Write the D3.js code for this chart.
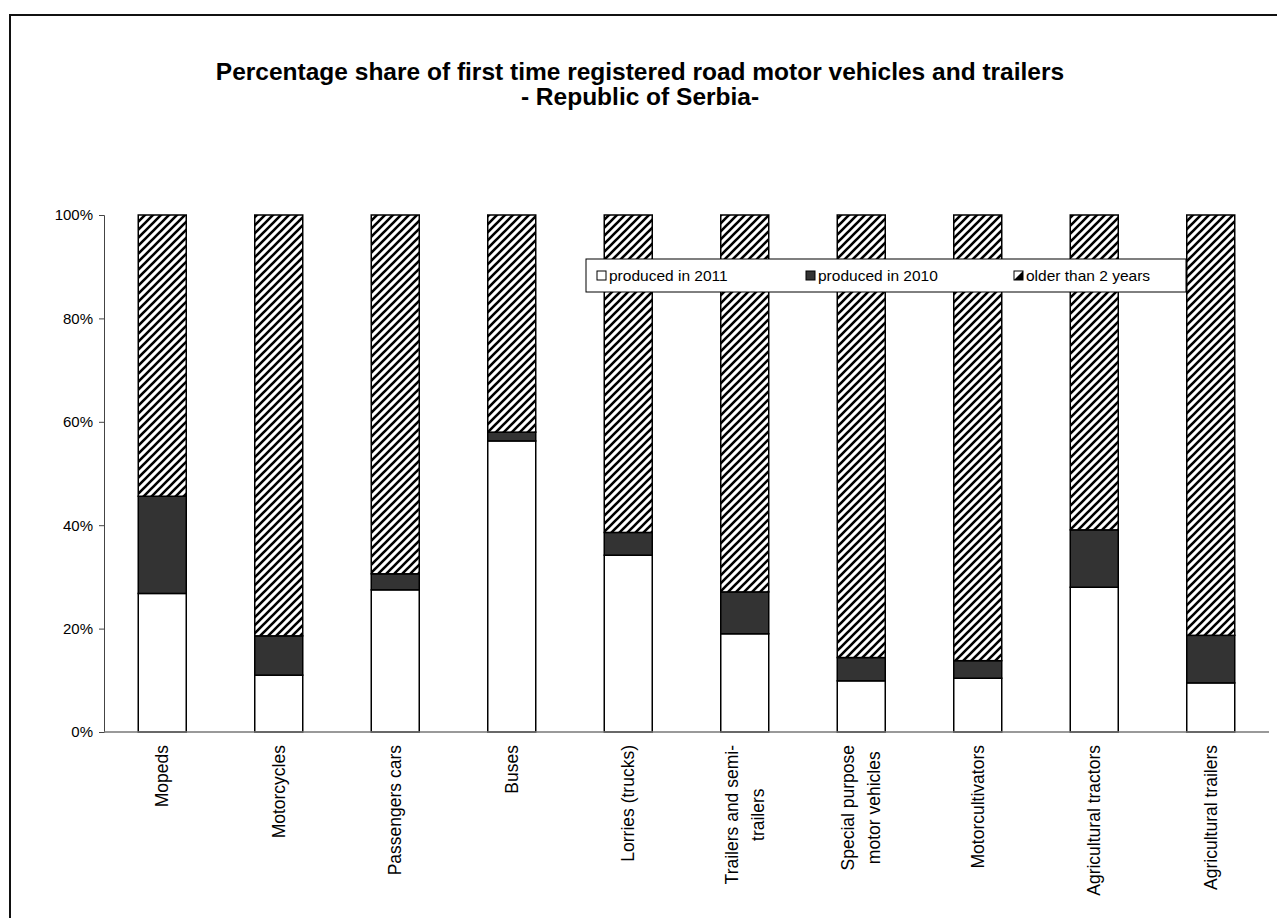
<!DOCTYPE html>
<html>
<head>
<meta charset="utf-8">
<script src="https://cdn.jsdelivr.net/npm/d3@7"></script>
<style>
  body { margin: 0; background: #fff; }
  svg { display: block; font-family: "Liberation Sans", Arial, sans-serif; }
</style>
</head>
<body>
<svg id="chart" width="1277" height="918"></svg>
<script>
// categories and shares (%)
const categories = [
  "Mopeds", "Motorcycles", "Passengers cars", "Buses", "Lorries (trucks)",
  "Trailers and semi-\ntrailers", "Special purpose\nmotor vehicles",
  "Motorcultivators", "Agricultural tractors", "Agricultural trailers"
];
const produced2011 = [26.8, 11.0, 27.5, 56.3, 34.2, 19.0, 9.9, 10.4, 28.0, 9.5];
const produced2010 = [18.8, 7.6, 3.1, 1.7, 4.4, 8.1, 4.5, 3.4, 11.1, 9.2];
const olderThan2 = produced2011.map((v, i) => 100 - v - produced2010[i]);
const seriesNames = ["produced in 2011", "produced in 2010", "older than 2 years"];
const yTicks = [0, 20, 40, 60, 80, 100];

const svg = d3.select("#chart");
const margin = { top: 215, left: 104, right: 1269, bottom: 732 };

// frame around the whole chart
svg.append("rect")
  .attr("x", 10).attr("y", 15)
  .attr("width", 1300).attr("height", 1000)
  .attr("fill", "none").attr("stroke", "#111").attr("stroke-width", 2);

// hatch pattern
const defs = svg.append("defs");
const pat = defs.append("pattern")
  .attr("id", "hatch")
  .attr("patternUnits", "userSpaceOnUse")
  .attr("width", 8).attr("height", 8);
pat.append("rect").attr("width", 8).attr("height", 8).attr("fill", "#fff");
pat.append("path")
  .attr("d", "M-2,2 L2,-2 M0,8 L8,0 M6,10 L10,6")
  .attr("stroke", "#000").attr("stroke-width", 2.6);

const rows = categories.map((c, i) => ({
  cat: c, s0: produced2011[i], s1: produced2010[i], s2: olderThan2[i]
}));
const stacked = d3.stack().keys(["s0", "s1", "s2"])(rows);
const fills = ["#fff", "#333", "url(#hatch)"];

const x = d3.scaleBand()
  .domain(categories)
  .range([margin.left, margin.right])
  .paddingInner(0.588)
  .paddingOuter(0.294);

const y = d3.scaleLinear()
  .domain([0, 100])
  .range([margin.bottom, margin.top]);

// title
svg.append("text")
  .attr("x", 640).attr("y", 80)
  .attr("text-anchor", "middle")
  .attr("font-weight", "bold").attr("font-size", 24.5)
  .text("Percentage share of first time registered road motor vehicles and trailers");
svg.append("text")
  .attr("x", 640).attr("y", 105)
  .attr("text-anchor", "middle")
  .attr("font-weight", "bold").attr("font-size", 24.5)
  .text("- Republic of Serbia-");

// bars
stacked.forEach((layer, li) => {
  svg.append("g").selectAll("rect")
    .data(layer)
    .join("rect")
    .attr("x", d => x(d.data.cat))
    .attr("width", x.bandwidth())
    .attr("y", d => y(d[1]))
    .attr("height", d => y(d[0]) - y(d[1]))
    .attr("fill", fills[li])
    .attr("stroke", "#000")
    .attr("stroke-width", 1.5);
});

// y axis
const yAxis = svg.append("g")
  .attr("transform", `translate(${margin.left},0)`)
  .call(d3.axisLeft(y).tickValues(yTicks).tickSize(5).tickPadding(6)
    .tickFormat(d => d + "%"));
yAxis.select(".domain").attr("stroke", "#444");
yAxis.selectAll(".tick line").attr("stroke", "#444");
yAxis.selectAll("text").attr("font-size", 15).attr("fill", "#000")
  .attr("font-family", "Liberation Sans, Arial, sans-serif");

// x axis line
svg.append("line")
  .attr("x1", margin.left).attr("x2", margin.right)
  .attr("y1", margin.bottom).attr("y2", margin.bottom)
  .attr("stroke", "#777").attr("stroke-width", 1.5);

// category labels, rotated
categories.forEach(c => {
  const lines = c.split("\n");
  const g = svg.append("g")
    .attr("transform", `translate(${x(c) + x.bandwidth() / 2},745) rotate(-90)`);
  const texts = lines.map((ln, i) => g.append("text")
    .attr("font-size", 17.5)
    .attr("y", (i - (lines.length - 1) / 2) * 26)
    .attr("dy", "0.35em")
    .text(ln));
  const maxW = d3.max(texts, t => t.node().getComputedTextLength());
  texts.forEach(t => t.attr("text-anchor", "middle").attr("x", -maxW / 2));
});

// legend
const lg = svg.append("g");
lg.append("rect")
  .attr("x", 586).attr("y", 259).attr("width", 600).attr("height", 33)
  .attr("fill", "#fff").attr("stroke", "#000").attr("stroke-width", 1);
const legX = [597, 806, 1014];
seriesNames.forEach((name, i) => {
  const sx = legX[i];
  if (i === 2) {
    lg.append("rect").attr("x", sx).attr("y", 271).attr("width", 9).attr("height", 9)
      .attr("fill", "#fff").attr("stroke", "#000");
    lg.append("path").attr("d", `M${sx},${280} L${sx + 9},${271} L${sx + 9},${280} Z`)
      .attr("fill", "#000");
  } else {
    lg.append("rect").attr("x", sx).attr("y", 271).attr("width", 9).attr("height", 9)
      .attr("fill", fills[i]).attr("stroke", "#000");
  }
  lg.append("text")
    .attr("x", sx + 12).attr("y", 281)
    .attr("font-size", 15.5)
    .text(name);
});
</script>
</body>
</html>
